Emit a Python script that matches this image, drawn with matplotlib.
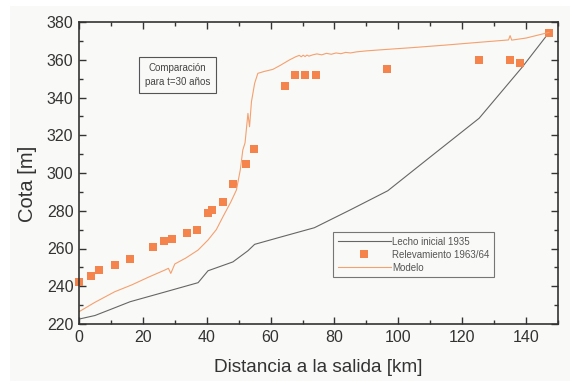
import matplotlib
matplotlib.use("Agg")
import matplotlib.pyplot as plt
from matplotlib.patches import Rectangle
from matplotlib.ticker import MultipleLocator

plt.rcParams["font.family"] = ["Liberation Sans", "DejaVu Sans"]

# =======================
# Datos
# =======================
# Lecho inicial 1935
lecho_x = [0, 5, 10, 16, 27, 37.3, 40.4, 48.2, 52.9, 55, 62.8, 73.7, 85, 96.7, 110, 125.3, 138.9, 147]
lecho_y = [222.6, 224.5, 227.8, 231.8, 237.0, 241.9, 248.2, 252.9, 258.8, 262.2, 265.9, 271.0, 280.5, 290.6, 308.5, 329.0, 356.3, 374.0]

# Relevamiento 1963/64
relev_x = [0, 3.9, 6.4, 11.2, 16.0, 23.3, 26.7, 29.0, 33.8, 37.1, 40.4, 41.8, 45.0,
           48.2, 52.4, 54.7, 64.4, 67.5, 70.8, 74.1, 96.3, 125.4, 135.0, 138.2, 147.3]
relev_y = [242.4, 245.4, 248.4, 251.4, 254.4, 260.6, 263.8, 265.2, 268.2, 269.6, 279.0, 280.6, 284.8,
           294.2, 304.8, 312.6, 346.1, 352.1, 352.1, 352.1, 355.1, 359.7, 359.7, 358.1, 374.1]

# Modelo
modelo_x = [0, 5, 11.2, 16.5, 22, 26.9, 28.0, 28.75, 30, 33.5, 37.3, 40.4, 43, 45.1, 47.5, 49.3,
            50.5, 51.3, 52.0, 52.9, 53.4, 54.0, 55.0, 56.0, 58.0, 60.7, 63.0, 65.9, 68.0,
            69.0, 69.6, 70.2, 70.8, 71.4, 72.0, 73.2, 74.5, 76.0, 77.5, 79.0, 80.5, 82.0,
            83.5, 85.0, 87.0, 90.0, 94.0, 105.0, 115.0, 125.0, 134.5, 135.0, 135.5, 140.0, 147.2]
modelo_y = [226.5, 231.5, 237.1, 240.7, 245.0, 248.6, 249.5, 246.8, 251.8, 255.0, 259.2, 264.5, 270.0, 276.9, 284.5, 291.0,
            301.6, 312.2, 316.0, 331.6, 324.5, 337.7, 347.5, 352.8, 353.8, 354.9, 357.0, 359.9, 361.7,
            362.3, 361.6, 362.4, 361.7, 362.5, 361.9, 362.6, 363.1, 362.6, 363.4, 362.9, 363.6, 363.2,
            363.9, 363.6, 364.2, 364.7, 365.2, 366.5, 367.8, 369.2, 370.5, 372.8, 370.4, 371.5, 374.5]

# =======================
# Gráfico
# =======================
fig = plt.figure(figsize=(5.70, 3.81), dpi=100, facecolor="white")
fig.patches.append(Rectangle((10 / 570, 0), 560 / 570, 375 / 381, transform=fig.transFigure,
                             facecolor="#f9f9f7", edgecolor="none", zorder=-10))
ax = fig.add_axes([79 / 570, 1 - 324 / 381, 479 / 570, 302 / 381])
ax.set_facecolor("#f9f9f7")

ax.plot(lecho_x, lecho_y, color="#666666", linewidth=0.8, label="Lecho inicial 1935")
ax.plot(relev_x, relev_y, linestyle="none", marker="s", markersize=5.3,
        color="#f4844c", markeredgewidth=0, label="Relevamiento 1963/64", clip_on=False)
ax.plot(modelo_x, modelo_y, color="#f5a06e", linewidth=0.8, label="Modelo")

ax.set_xlim(0, 150)
ax.set_ylim(220, 380)
ax.xaxis.set_major_locator(MultipleLocator(20))
ax.xaxis.set_minor_locator(MultipleLocator(10))
ax.yaxis.set_major_locator(MultipleLocator(20))
ax.yaxis.set_minor_locator(MultipleLocator(10))
ax.tick_params(which="both", direction="in", top=True, right=True, color="#333333", width=1.0)
ax.tick_params(which="major", length=5, labelsize=11.5, labelcolor="#333333", pad=4)
ax.tick_params(which="minor", length=3)
for s in ax.spines.values():
    s.set_color("#333333")
    s.set_linewidth(1.2)

ax.set_xlabel("Distancia a la salida [km]", fontsize=13.7, color="#333333")
ax.set_ylabel("Cota [m]", fontsize=14.5, color="#333333")
ax.xaxis.set_label_coords(0.5, -0.117)
ax.yaxis.set_label_coords(-0.087, 0.464)

ax.text(30.9, 352, "Comparación\npara t=30 años", fontsize=7, color="#444444",
        ha="center", va="center", linespacing=1.5,
        bbox=dict(boxstyle="square,pad=0.6", facecolor="none", edgecolor="#555555", linewidth=0.8))

leg = ax.legend(loc="upper left", bbox_to_anchor=(0.53, 0.305), fontsize=7, frameon=True,
                fancybox=False, edgecolor="#555555", facecolor="none", handlelength=5.5,
                handletextpad=0.1, borderpad=0.5, labelspacing=0.3, labelcolor="#555555",
                borderaxespad=0)
leg.get_frame().set_linewidth(0.8)

fig.savefig("out.png", dpi=100, facecolor=fig.get_facecolor())
